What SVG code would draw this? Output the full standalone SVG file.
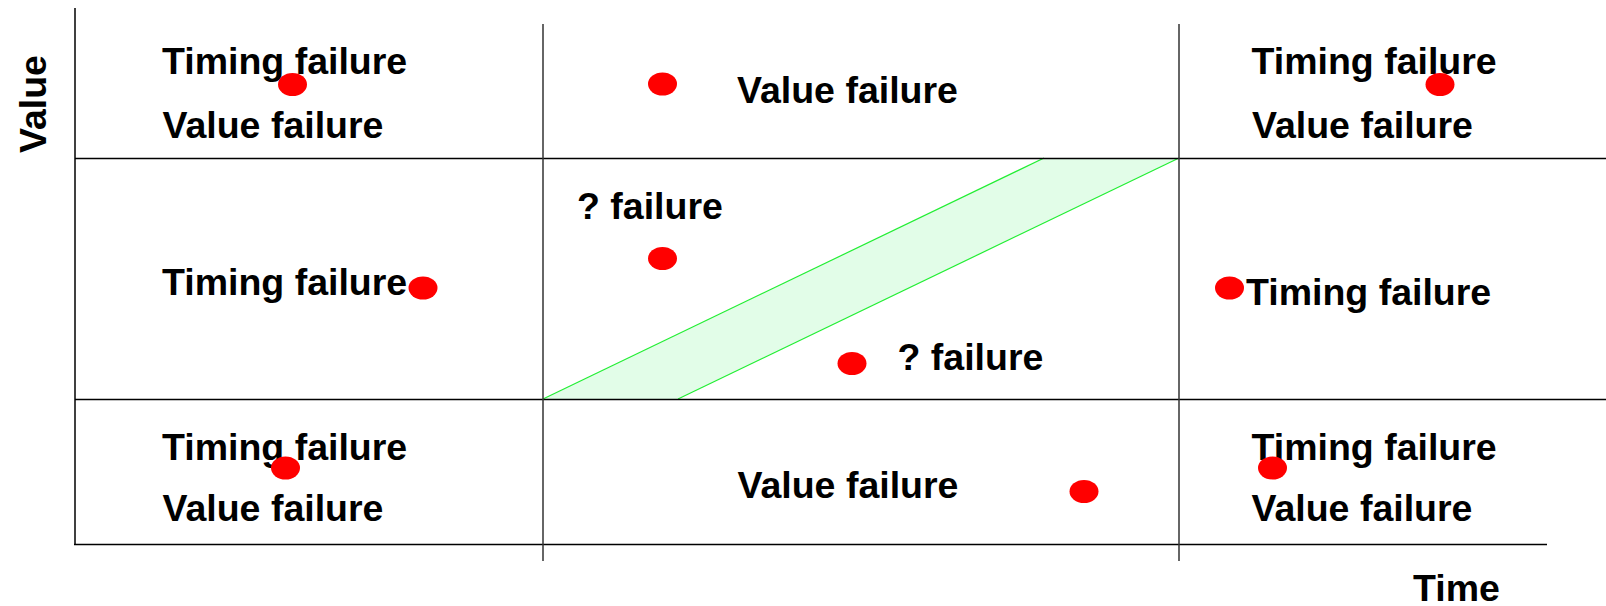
<svg xmlns="http://www.w3.org/2000/svg" width="1606" height="606" viewBox="0 0 1606 606">
<style>
.t{font-family:"Liberation Sans",Arial,sans-serif;font-weight:bold;font-size:37.5px;fill:#000}
.ln{stroke:#000;stroke-width:1.5;fill:none}
.vl{stroke:#333;stroke-width:1.5;fill:none}
.dot{fill:#ff0000}
</style>
<rect width="1606" height="606" fill="#fff"/>
<g id="band">
<polygon points="543,399 678,399 1179,158 1044,158" fill="#e2fde8" stroke="none"/>
<line x1="543" y1="399" x2="1044" y2="158" stroke="#22ee33" stroke-width="1.2"/>
<line x1="678" y1="399" x2="1179" y2="158" stroke="#22ee33" stroke-width="1.2"/>
</g>
<g id="connectors">
<line class="ln" x1="75" y1="8" x2="75" y2="545"/>
<line class="ln" x1="74" y1="544.5" x2="1547" y2="544.5"/>
<line class="ln" x1="75" y1="158.5" x2="1606" y2="158.5"/>
<line class="ln" x1="75" y1="399.5" x2="1606" y2="399.5"/>
<line class="vl" x1="543" y1="24" x2="543" y2="561"/>
<line class="vl" x1="1179" y1="24" x2="1179" y2="561"/>
</g>
<g id="axis-value"><text class="t" transform="translate(46,153) rotate(-90)">Value</text></g>
<g id="axis-time"><text class="t" x="1413" y="601">Time</text></g>
<g id="cell-top-left">
<text class="t" x="162" y="74">Timing failure</text>
<text class="t" x="162.5" y="137.5">Value failure</text>
<ellipse class="dot" cx="292.5" cy="84.5" rx="14.5" ry="11.5"/>
</g>
<g id="cell-top-middle">
<text class="t" x="737" y="102.5">Value failure</text>
<ellipse class="dot" cx="662.5" cy="84" rx="14.5" ry="11.5"/>
</g>
<g id="cell-top-right">
<text class="t" x="1251.5" y="74">Timing failure</text>
<text class="t" x="1252" y="137.5">Value failure</text>
<ellipse class="dot" cx="1440" cy="84.5" rx="14.5" ry="11.5"/>
</g>
<g id="cell-mid-left">
<text class="t" x="162" y="295">Timing failure</text>
<ellipse class="dot" cx="423" cy="288" rx="14.5" ry="11.5"/>
</g>
<g id="cell-mid-middle">
<text class="t" x="577" y="218.5">? failure</text>
<text class="t" x="897.5" y="370">? failure</text>
<ellipse class="dot" cx="662.5" cy="258.5" rx="14.5" ry="11.5"/>
<ellipse class="dot" cx="852" cy="363.5" rx="14.5" ry="11.5"/>
</g>
<g id="cell-mid-right">
<text class="t" x="1246" y="305">Timing failure</text>
<ellipse class="dot" cx="1229.5" cy="288" rx="14.5" ry="11.5"/>
</g>
<g id="cell-bottom-left">
<text class="t" x="162" y="459.5">Timing failure</text>
<text class="t" x="162.5" y="521">Value failure</text>
<ellipse class="dot" cx="285.5" cy="468" rx="14.5" ry="11.5"/>
</g>
<g id="cell-bottom-middle">
<text class="t" x="737.5" y="497.5">Value failure</text>
<ellipse class="dot" cx="1084" cy="491.5" rx="14.5" ry="11.5"/>
</g>
<g id="cell-bottom-right">
<text class="t" x="1251.5" y="459.5">Timing failure</text>
<text class="t" x="1251.5" y="521">Value failure</text>
<ellipse class="dot" cx="1272.5" cy="468" rx="14.5" ry="11.5"/>
</g>
</svg>
